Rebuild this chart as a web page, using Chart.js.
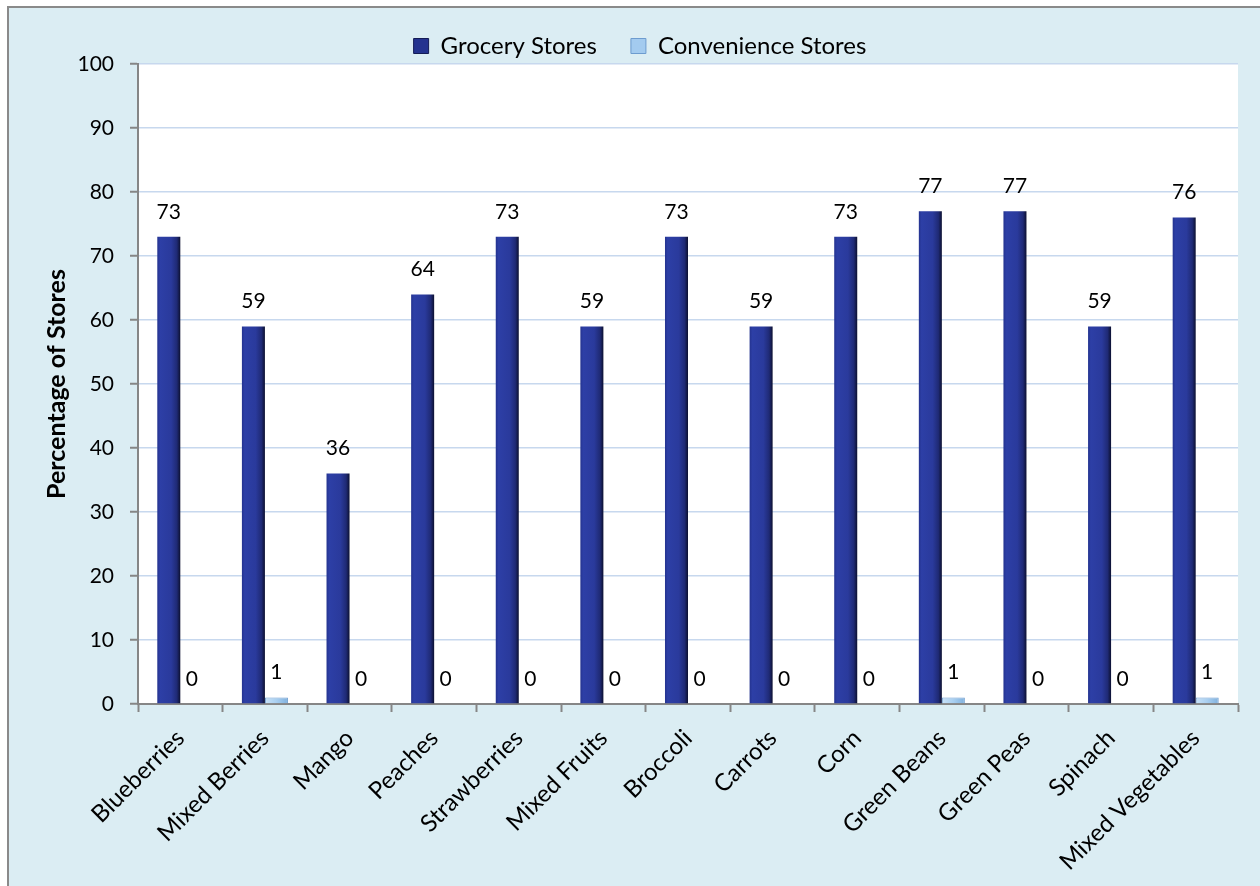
<!DOCTYPE html>
<html>
<head>
<meta charset="utf-8">
<script src="https://cdn.jsdelivr.net/npm/chart.js@4.4.1/dist/chart.umd.min.js"></script>
<style>
  html, body { margin: 0; padding: 0; background: #ffffff; }
  body { width: 1260px; height: 886px; position: relative; overflow: hidden; }
  #frame {
    position: absolute; left: 7px; top: 6px; width: 1300px; height: 1000px;
    border: 2px solid #8a8a8a; background: #dbedf3; box-sizing: border-box;
  }
  #wrap { position: absolute; left: 0; top: 0; width: 1260px; height: 886px; }
</style>
</head>
<body>
<div id="frame"></div>
<div id="wrap"><canvas id="chart" width="1260" height="886"></canvas></div>
<script>
// Frozen fruit and vegetable availability by store type
const categories = [
  'Blueberries', 'Mixed Berries', 'Mango', 'Peaches', 'Strawberries', 'Mixed Fruits',
  'Broccoli', 'Carrots', 'Corn', 'Green Beans', 'Green Peas', 'Spinach', 'Mixed Vegetables'
];
const groceryStores     = [73, 59, 36, 64, 73, 59, 73, 59, 73, 77, 77, 59, 76];
const convenienceStores = [0, 1, 0, 0, 0, 0, 0, 0, 0, 1, 0, 0, 1];
const yTicks = [0, 10, 20, 30, 40, 50, 60, 70, 80, 90, 100];

const FONT = 'Lato, "Open Sans", sans-serif';

// horizontal shading across each bar, giving the rounded column look
function barGradient(ctx, seriesIndex, stops) {
  const chart = ctx.chart;
  const area = chart.chartArea;
  if (!area || ctx.type !== 'data') return stops[1][1];
  const xScale = chart.scales.x;
  const center = xScale.getPixelForValue(ctx.dataIndex);
  const cat = area.width / categories.length;
  const barW = cat * 0.544 / 2;
  const x0 = seriesIndex === 0 ? center - barW : center;
  const g = chart.ctx.createLinearGradient(x0, 0, x0 + barW, 0);
  stops.forEach(s => g.addColorStop(s[0], s[1]));
  return g;
}
const navyStops = [[0, '#24338f'], [0.12, '#2d3fa6'], [0.6, '#2a3a9c'], [0.85, '#1f2a75'], [1, '#0c1030']];
const lightStops = [[0, '#c9e2f7'], [0.5, '#a9cff0'], [1, '#7fb0dd']];

const plotBackground = {
  id: 'plotBackground',
  beforeDraw(chart) {
    const { ctx, chartArea: a } = chart;
    ctx.save();
    ctx.fillStyle = '#ffffff';
    ctx.fillRect(a.left, a.top, a.right - a.left, a.bottom - a.top);
    ctx.restore();
  }
};

const legendHeight = {
  id: 'legendHeight',
  beforeInit(chart) {
    const legend = chart.legend;
    if (!legend) return;
    const fit = legend.fit;
    legend.fit = function () { fit.call(this); this.height = 64; };
  }
};

const valueLabels = {
  id: 'valueLabels',
  afterDatasetsDraw(chart) {
    const ctx = chart.ctx;
    ctx.save();
    ctx.font = '21px ' + FONT;
    ctx.fillStyle = '#000000';
    ctx.textAlign = 'center';
    ctx.textBaseline = 'middle';
    chart.data.datasets.forEach((ds, di) => {
      const meta = chart.getDatasetMeta(di);
      meta.data.forEach((bar, i) => {
        ctx.fillText(String(ds.data[i]), bar.x, bar.y - 25);
      });
    });
    ctx.restore();
  }
};

new Chart(document.getElementById('chart'), {
  type: 'bar',
  data: {
    labels: categories,
    datasets: [
      {
        label: 'Grocery Stores',
        data: groceryStores,
        backgroundColor: ctx => barGradient(ctx, 0, navyStops),
        borderWidth: 0,
        categoryPercentage: 0.544,
        barPercentage: 1
      },
      {
        label: 'Convenience Stores',
        data: convenienceStores,
        backgroundColor: ctx => barGradient(ctx, 1, lightStops),
        borderColor: '#6d9ccf',
        borderWidth: 1,
        categoryPercentage: 0.544,
        barPercentage: 1
      }
    ]
  },
  options: {
    responsive: false,
    animation: false,
    layout: { padding: { left: 42, right: 22, top: 0, bottom: 0 } },
    plugins: {
      tooltip: { enabled: false },
      legend: {
        position: 'top',
        labels: {
          font: { family: FONT, size: 24 },
          color: '#000000',
          boxWidth: 15,
          boxHeight: 15,
          padding: 34,
          generateLabels() {
            return [
              { text: 'Grocery Stores', fillStyle: '#24338f', strokeStyle: '#141c55', lineWidth: 1, datasetIndex: 0 },
              { text: 'Convenience Stores', fillStyle: '#a3cbef', strokeStyle: '#6d9ccf', lineWidth: 1, datasetIndex: 1 }
            ];
          }
        }
      }
    },
    scales: {
      x: {
        afterFit(scale) { scale.height = 182; },
        grid: {
          offset: true,
          drawOnChartArea: false,
          drawTicks: true,
          tickLength: 8,
          tickColor: '#868686',
          tickWidth: 2
        },
        border: { color: '#868686', width: 2 },
        ticks: {
          font: { family: FONT, size: 24 },
          color: '#000000',
          maxRotation: 45,
          minRotation: 45,
          autoSkip: false,
          padding: 12
        }
      },
      y: {
        min: 0,
        max: 100,
        afterFit(scale) { scale.width = 96; },
        afterBuildTicks(scale) { scale.ticks = yTicks.map(v => ({ value: v })); },
        grid: {
          color: '#c7d8ee',
          lineWidth: 1.5,
          drawTicks: true,
          tickLength: 8,
          tickColor: '#868686',
          tickWidth: 2
        },
        border: { color: '#868686', width: 2 },
        ticks: {
          font: { family: FONT, size: 21 },
          color: '#000000',
          padding: 16
        },
        title: {
          display: true,
          text: 'Percentage of Stores',
          font: { family: FONT, size: 25, weight: 'bold' },
          color: '#000000',
          padding: { top: 0, bottom: 0 }
        }
      }
    }
  },
  plugins: [legendHeight, plotBackground, valueLabels]
});
</script>
</body>
</html>
